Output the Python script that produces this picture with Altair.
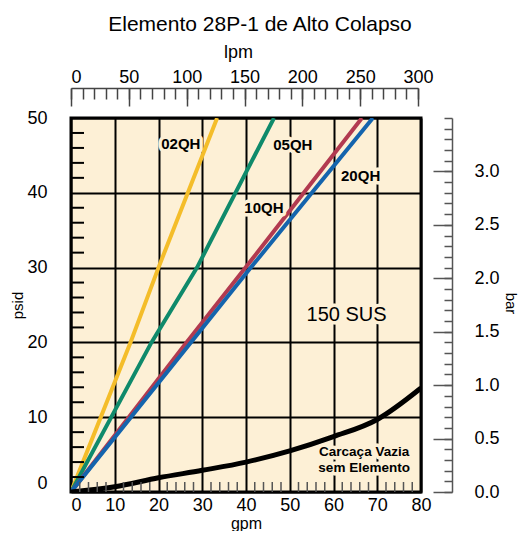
import altair as alt
import pandas as pd

# ---------------- data ----------------
series_names = ["02QH", "05QH", "10QH", "20QH"]
series_colors = ["#F4BD2A", "#0F8A6B", "#B23A50", "#1464AD"]
psi_points = [0, 20, 30, 50]
gpm_02qh = [0, 13.6, 20.0, 33.4]
gpm_05qh = [0, 18.4, 28.8, 46.4]
gpm_10qh = [0, 26.4, 39.9, 66.5]
gpm_20qh = [0, 27.4, 41.1, 69.0]

empty_gpm = [0, 10, 20, 30, 40, 50, 60, 70, 80]
empty_psi = [0, 0.7, 1.9, 2.9, 4.0, 5.5, 7.4, 9.7, 13.9]

gpm_labels = [0, 10, 20, 30, 40, 50, 60, 70, 80]
psi_labels = [0, 10, 20, 30, 40, 50]
gpm_minor = [v for v in range(2, 80, 2) if v % 10 != 0]
psi_minor = [v for v in range(2, 50, 2) if v % 10 != 0]
lpm_major = [0, 50, 100, 150, 200, 250, 300]
lpm_minor = list(range(0, 301, 10))
bar_major = [0.0, 0.5, 1.0, 1.5, 2.0, 2.5, 3.0]
bar_minor = [round(0.1 * i, 1) for i in range(36)]

label_text = ["02QH", "05QH", "10QH", "20QH", "Carcaça Vazia", "sem Elemento"]
label_gpm = [25.1, 50.7, 44.1, 66.2, 67.0, 67.0]
label_psi = [46.5, 46.4, 38.0, 42.2, 5.3, 3.2]
label_size = [15, 15, 15, 15, 13.5, 13.5]

sus_text = ["150 SUS"]
sus_gpm = [63.0]
sus_psi = [23.7]

BG = "#FDF0D6"
FONT = "Liberation Sans"
W, H = 350, 374

# ---------------- frames ----------------
lines_df = pd.concat(
    [
        pd.DataFrame({"series": n, "gpm": g, "psi": psi_points})
        for n, g in zip(series_names, [gpm_02qh, gpm_05qh, gpm_10qh, gpm_20qh])
    ],
    ignore_index=True,
)
empty_df = pd.DataFrame({"gpm": empty_gpm, "psi": empty_psi})
labels_df = pd.DataFrame({"t": label_text, "gpm": label_gpm, "psi": label_psi, "s": label_size})
sus_df = pd.DataFrame({"t": sus_text, "gpm": sus_gpm, "psi": sus_psi})
gpm_minor_df = pd.DataFrame({"gpm": gpm_minor})
psi_minor_df = pd.DataFrame({"psi": psi_minor})
lpm_df = pd.DataFrame({"lpm": lpm_minor})
bar_df = pd.DataFrame({"bar": bar_minor})

xs = alt.Scale(domain=[0, 80], nice=False, zero=False)
ys = alt.Scale(domain=[0, 50], nice=False, zero=False)
lpm_s = alt.Scale(domain=[0, 300], range=[0, 347], nice=False, zero=False)
bar_s = alt.Scale(domain=[0, 3.5], nice=False, zero=False)

zero_left = {"condition": {"test": "datum.value === 0", "value": "left"}, "value": "center"}
zero_bottom = {"condition": {"test": "datum.value === 0", "value": "bottom"}, "value": "middle"}

# ---------------- main lines ----------------
lines = alt.Chart(lines_df).mark_line(strokeWidth=4, clip=True).encode(
    x=alt.X(
        "gpm:Q",
        scale=xs,
        axis=alt.Axis(
            orient="bottom", values=gpm_labels, title="gpm", labelFontSize=18, titleFontSize=16,
            labelPadding=4, ticks=False, tickSize=0, domain=False, grid=True, gridColor="black",
            gridWidth=2, gridOpacity=1, labelFlush=False, labelAlign=zero_left,
            titleX=175, titleY=36, titleBaseline="alphabetic", titleAlign="center",
        ),
    ),
    y=alt.Y(
        "psi:Q",
        scale=ys,
        axis=alt.Axis(
            orient="left", values=psi_labels, title="psid", labelFontSize=18, titleFontSize=15,
            labelPadding=24, ticks=False, tickSize=0, domain=False, grid=True, gridColor="black",
            gridWidth=2, gridOpacity=1, labelBaseline=zero_bottom, titleAngle=270,
            titleX=-49, titleY=187, titleBaseline="alphabetic", titleAlign="center",
        ),
    ),
    color=alt.Color("series:N", scale=alt.Scale(domain=series_names, range=series_colors), legend=None),
)

empty_line = alt.Chart(empty_df).mark_line(strokeWidth=5, color="black", interpolate="monotone", clip=True).encode(
    x=alt.X("gpm:Q", scale=xs, axis=None),
    y=alt.Y("psi:Q", scale=ys, axis=None),
)

left_ticks = alt.Chart(psi_minor_df).mark_rule(color="black", strokeWidth=2).encode(
    y=alt.Y("psi:Q", scale=ys, axis=None),
    x=alt.value(0),
    x2=alt.value(13),
)
bottom_ticks = alt.Chart(gpm_minor_df).mark_rule(color="#555555", strokeWidth=1.5).encode(
    x=alt.X("gpm:Q", scale=xs, axis=None),
    y=alt.value(H - 10),
    y2=alt.value(H),
)

halo = alt.Chart(labels_df).mark_text(
    fontWeight="bold", stroke=BG, strokeWidth=7, fill=BG, strokeJoin="round"
).encode(
    x=alt.X("gpm:Q", scale=xs, axis=None),
    y=alt.Y("psi:Q", scale=ys, axis=None),
    text="t:N",
    size=alt.Size("s:Q", scale=None, legend=None),
)
labels = alt.Chart(labels_df).mark_text(fontWeight="bold", color="black").encode(
    x=alt.X("gpm:Q", scale=xs, axis=None),
    y=alt.Y("psi:Q", scale=ys, axis=None),
    text="t:N",
    size=alt.Size("s:Q", scale=None, legend=None),
)
sus_halo = alt.Chart(sus_df).mark_text(fontSize=20, stroke=BG, strokeWidth=7, fill=BG, strokeJoin="round").encode(
    x=alt.X("gpm:Q", scale=xs, axis=None),
    y=alt.Y("psi:Q", scale=ys, axis=None),
    text="t:N",
)
sus = alt.Chart(sus_df).mark_text(fontSize=20, color="black").encode(
    x=alt.X("gpm:Q", scale=xs, axis=None),
    y=alt.Y("psi:Q", scale=ys, axis=None),
    text="t:N",
)

# ---------------- top lpm axis ----------------
lpm_minor_ax = alt.Chart(lpm_df).mark_point(opacity=0).encode(
    x=alt.X("lpm:Q", scale=lpm_s, axis=alt.Axis(
        orient="bottom", offset=-(H + 30), values=lpm_minor, tickSize=11, tickColor="#444444",
        tickWidth=1.5, labels=False, domain=True, domainColor="#444444", domainWidth=1.5,
        grid=False, title=None)),
)
lpm_major_ax = alt.Chart(lpm_df).mark_point(opacity=0).encode(
    x=alt.X("lpm:Q", scale=lpm_s, axis=alt.Axis(
        orient="bottom", offset=-(H + 30), values=lpm_major, tickSize=18, tickColor="#444444",
        tickWidth=1.5, labels=False, domain=False, grid=False, title=None)),
)
lpm_label_ax = alt.Chart(lpm_df).mark_point(opacity=0).encode(
    x=alt.X("lpm:Q", scale=lpm_s, axis=alt.Axis(
        orient="top", offset=30, values=lpm_major, ticks=False, tickSize=0, domain=False,
        grid=False, labelPadding=2, labelFontSize=18, labelFlush=False, labelAlign=zero_left,
        title="lpm", titleFontSize=18, titleX=167, titleY=-31, titleBaseline="alphabetic",
        titleAlign="center")),
)

# ---------------- right bar axis ----------------
bar_minor_ax = alt.Chart(bar_df).mark_point(opacity=0).encode(
    y=alt.Y("bar:Q", scale=bar_s, axis=alt.Axis(
        orient="left", offset=-(W + 31), values=bar_minor, tickSize=8, tickColor="#555555",
        tickWidth=1.5, labels=False, domain=True, domainColor="#555555", domainWidth=1.5,
        grid=False, title=None)),
)
bar_major_ax = alt.Chart(bar_df).mark_point(opacity=0).encode(
    y=alt.Y("bar:Q", scale=bar_s, axis=alt.Axis(
        orient="left", offset=-(W + 31), values=bar_major, tickSize=19, tickColor="#555555",
        tickWidth=1.5, labels=False, domain=False, grid=False, title=None)),
)
bar_label_ax = alt.Chart(bar_df).mark_point(opacity=0).encode(
    y=alt.Y("bar:Q", scale=bar_s, axis=alt.Axis(
        orient="right", offset=31, values=bar_major, format=".1f", ticks=False, tickSize=0,
        domain=False, grid=False, labelPadding=22, labelFontSize=18, title="bar",
        titleFontSize=15, titleAngle=90, titleX=53, titleY=185, titleBaseline="alphabetic",
        titleAlign="center")),
)

chart = (
    alt.layer(
        lines, empty_line, left_ticks, bottom_ticks, halo, labels, sus_halo, sus,
        lpm_minor_ax, lpm_major_ax, lpm_label_ax, bar_minor_ax, bar_major_ax, bar_label_ax,
    )
    .resolve_scale(x="independent", y="independent")
    .properties(
        width=W,
        height=H,
        autosize=alt.AutoSizeParams(type="none"),
        padding={"left": 63, "top": 110, "right": 98, "bottom": 39},
        title=alt.TitleParams(
            text="Elemento 28P-1 de Alto Colapso", fontSize=21, fontWeight="normal",
            anchor="middle", frame="group", dx=14, offset=8, color="black", font=FONT,
        ),
    )
    .configure(font=FONT)
    .configure_view(fill=BG, stroke="black", strokeWidth=3)
    .configure_axis(labelColor="black", titleColor="black", titleFontWeight="normal",
                    labelFont=FONT, titleFont=FONT)
)

chart.save("out.html", embed_options={"renderer": "svg", "actions": False})
